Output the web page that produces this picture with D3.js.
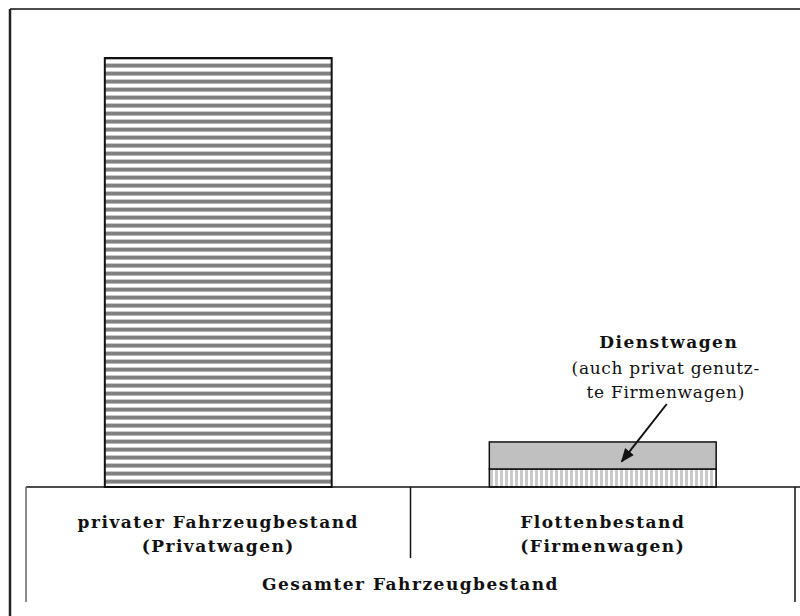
<!DOCTYPE html>
<html lang="de">
<head>
  <meta charset="utf-8" />
  <title>Fahrzeugbestand</title>
  <script src="https://d3js.org/d3.v7.min.js"></script>
  <style>
    body { margin: 0; background: #fff; }
    svg text { font-family: "DejaVu Serif", serif; fill: #111; font-size: 17px; }
    .bold { font-weight: bold; letter-spacing: 1.5px; }
    .reg { letter-spacing: 0.7px; }
  </style>
</head>
<body>
<svg id="chart" width="800" height="616"></svg>
<script>
// categories (bars) and their stacked parts, relative units
var categories = ["Privatwagen", "Firmenwagen"];
var partNames = ["basis", "dienst"];
var basisValues = [100, 4.2];   // Privatwagen total, Firmenwagen without private use
var dienstValues = [0, 6.3];    // Dienstwagen (privately used company cars)

var rowLabels = [["privater Fahrzeugbestand", "(Privatwagen)"], ["Flottenbestand", "(Firmenwagen)"]];
var totalLabel = "Gesamter Fahrzeugbestand";
var noteTitle = "Dienstwagen";
var noteLines = ["(auch privat genutz-", "te Firmenwagen)"];

var svg = d3.select("#chart");
var defs = svg.append("defs");

var hp = defs.append("pattern").attr("id", "hstripe")
  .attr("patternUnits", "userSpaceOnUse").attr("width", 8).attr("height", 8);
hp.append("rect").attr("width", 8).attr("height", 8).attr("fill", "#fff");
hp.append("rect").attr("y", 0).attr("width", 8).attr("height", 3).attr("fill", "#808080");
hp.append("rect").attr("y", 3).attr("width", 8).attr("height", 1).attr("fill", "#b5b5b5");
hp.append("rect").attr("y", 7).attr("width", 8).attr("height", 1).attr("fill", "#c8c8c8");

var vp = defs.append("pattern").attr("id", "vstripe")
  .attr("patternUnits", "userSpaceOnUse").attr("width", 5).attr("height", 5);
vp.append("rect").attr("width", 5).attr("height", 5).attr("fill", "#fff");
vp.append("rect").attr("x", 0).attr("width", 3).attr("height", 5).attr("fill", "#cacaca");

// outer frame (only top and left visible)
svg.append("line").attr("x1", 10).attr("y1", 9).attr("x2", 800).attr("y2", 9)
  .attr("stroke", "#111").attr("stroke-width", 1.5);
svg.append("line").attr("x1", 10).attr("y1", 9).attr("x2", 10).attr("y2", 616)
  .attr("stroke", "#222").attr("stroke-width", 2.5);

var tableLeft = 26, tableRight = 795, baseY = 487;

var x = d3.scaleBand().domain(categories).range([tableLeft, tableRight]).padding(0);
var y = d3.scaleLinear().domain([0, 100]).range([baseY, 58]);
var barW = x.bandwidth() * 0.59;

var rows = categories.map(function(c, i) {
  return { cat: c, basis: basisValues[i], dienst: dienstValues[i] };
});
var stack = d3.stack().keys(partNames)(rows);

svg.append("g").selectAll("g")
  .data(stack).enter().append("g")
  .each(function(layer) {
    d3.select(this).selectAll("rect")
      .data(layer.filter(function(d) { return d[1] - d[0] > 0; }))
      .enter().append("rect")
      .attr("x", function(d) { return x(d.data.cat) + (x.bandwidth() - barW) / 2; })
      .attr("y", function(d) { return y(d[1]); })
      .attr("width", barW)
      .attr("height", function(d) { return y(d[0]) - y(d[1]); })
      .attr("fill", function(d) {
        if (layer.key === "dienst") return "#c0c0c0";
        return d.data.cat === "Privatwagen" ? "url(#hstripe)" : "url(#vstripe)";
      })
      .attr("stroke", "#111")
      .attr("stroke-width", function(d) { return d.data.cat === "Privatwagen" ? 2 : 1.5; });
  });

// table below the bars
var t = svg.append("g").attr("stroke", "#111").attr("stroke-width", 1.5);
t.append("line").attr("x1", tableLeft).attr("x2", 800).attr("y1", baseY).attr("y2", baseY);
t.append("line").attr("x1", tableLeft).attr("x2", tableLeft).attr("y1", baseY).attr("y2", 602)
  .attr("stroke", "#666");
t.append("line").attr("x1", tableRight).attr("x2", tableRight).attr("y1", baseY).attr("y2", 602);
t.append("line").attr("x1", x.range()[0] + x.step()).attr("x2", x.range()[0] + x.step())
  .attr("y1", baseY).attr("y2", 558);

categories.forEach(function(c, i) {
  var cx = x(c) + x.bandwidth() / 2;
  svg.append("text").attr("class", "bold").attr("x", cx).attr("y", 528)
    .attr("text-anchor", "middle").text(rowLabels[i][0]);
  svg.append("text").attr("class", "bold").attr("x", cx).attr("y", 552)
    .attr("text-anchor", "middle").text(rowLabels[i][1]);
});
svg.append("text").attr("class", "bold").attr("x", (tableLeft + tableRight) / 2).attr("y", 590)
  .attr("text-anchor", "middle").text(totalLabel);

// annotation
var fx = x("Firmenwagen") + x.bandwidth() / 2;
svg.append("text").attr("class", "bold").attr("x", fx + 66).attr("y", 348)
  .attr("text-anchor", "middle").text(noteTitle);
noteLines.forEach(function(l, i) {
  svg.append("text").attr("class", "reg").attr("x", fx + 63).attr("y", 374 + i * 24)
    .attr("text-anchor", "middle").text(l);
});

defs.append("marker").attr("id", "arrow").attr("viewBox", "0 0 10 10")
  .attr("refX", 9).attr("refY", 5).attr("markerWidth", 7).attr("markerHeight", 7)
  .attr("orient", "auto")
  .append("path").attr("d", "M0,1 L10,5 L0,9 z").attr("fill", "#111");

var tipY = y((basisValues[1] + dienstValues[1] / 2)) - 1;
svg.append("line").attr("x1", fx + 64).attr("y1", 404).attr("x2", fx + 19).attr("y2", tipY + 7)
  .attr("stroke", "#111").attr("stroke-width", 2).attr("marker-end", "url(#arrow)");
</script>
</body>
</html>
